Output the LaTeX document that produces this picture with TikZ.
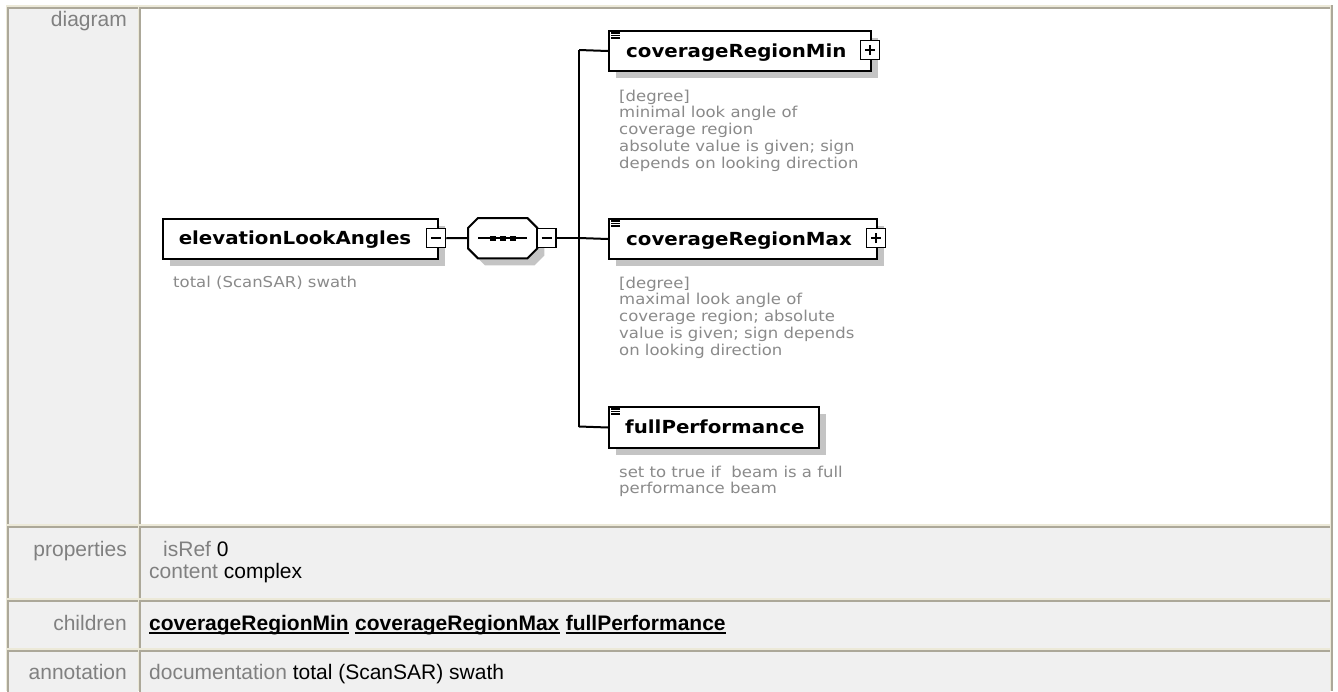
\documentclass[tikz,border=0pt]{standalone}
\usepackage{fontspec}
\setmainfont{Liberation Sans}
\newfontfamily\dgfont{DejaVu Sans}[FakeStretch=1.1]
\usetikzlibrary{calc,shadows}

\definecolor{xpdark}{HTML}{ACA899}
\definecolor{xplight}{HTML}{ECE9D8}
\definecolor{cellgrey}{HTML}{F0F0F0}
\definecolor{labgrey}{HTML}{808080}
\definecolor{docgrey}{HTML}{8A8A8A}
\definecolor{shadowgrey}{HTML}{C4C4C4}

\newcommand{\tabtext}{\fontsize{21}{24}\selectfont}
\newcommand{\eltext}{\dgfont\bfseries\fontsize{18}{20}\selectfont}
\newcommand{\doctext}{\dgfont\fontsize{15}{16.7}\selectfont}

\tikzset{
  lab/.style={anchor=base east, inner sep=0pt, text=labgrey, font=\tabtext},
  val/.style={anchor=base west, inner sep=0pt, font=\tabtext},
  link/.style={anchor=base west, inner sep=0pt, font=\tabtext\bfseries},
  elshadow/.style={drop shadow={shadow xshift=7pt, shadow yshift=-7pt, fill=shadowgrey, opacity=1}},
  elbox/.style={draw, line width=2pt, fill=white, inner sep=0pt, anchor=north west, elshadow},
  eltitle/.style={anchor=base west, inner sep=0pt, font=\eltext},
  doc/.style={anchor=north west, inner sep=0pt, align=left, text=docgrey, font=\doctext},
  pmbox/.style={draw, line width=1.5pt, fill=white, inner sep=0pt, minimum size=19pt},
  conn/.style={line width=2pt},
}

\begin{document}
\begin{tikzpicture}[x=1pt, y=-1pt]
\useasboundingbox (0,0) rectangle (1338,691);
\fill[white] (0,0) rectangle (1338,691);

% table frame and cells
\fill[xplight] (6,5) rectangle (1333,691);
\draw[xpdark, line width=2pt] (1332,5) -- (1332,691);
\foreach \ya/\yb/\cfill in {8/524/white, 527/598/cellgrey, 601/648/cellgrey, 651/700/cellgrey}{
  \fill[cellgrey] (8,\ya) rectangle (138,\yb);
  \draw[xpdark, line width=2pt] (8,\yb) -- (8,\ya) -- (138,\ya);
  \fill[\cfill] (140,\ya) rectangle (1330,\yb);
  \draw[xpdark, line width=2pt] (140,\yb) -- (140,\ya) -- (1330,\ya);
}

% row labels
\node[lab] (ldiagram) at (127,26) {diagram};
\node[lab] (lprops) at (127,556) {properties};
\node[lab] (lchildren) at (127,630) {children};
\node[lab] (lannot) at (127,679) {annotation};

% properties
\node[val] (isref) at (163,556) {\textcolor{labgrey}{isRef} 0};
\node[val] (content) at (149,578) {\textcolor{labgrey}{content} complex};

% children links
\node[link] (c1) at (149,630) {coverageRegionMin};
\node[link, anchor=base west] (c2) at ($(c1.base east)+(6,0)$) {coverageRegionMax};
\node[link, anchor=base west] (c3) at ($(c2.base east)+(6,0)$) {fullPerformance};
\foreach \c in {c1,c2,c3}{
  \draw[line width=1.5pt] ($(\c.base west)+(0,3)$) -- ($(\c.base east)+(0,3)$);
}

% annotation
\node[val] (docu) at (149,679) {\textcolor{labgrey}{documentation} total (ScanSAR) swath};

% ---- schema diagram ----
% root element
\node[elbox, minimum width=275pt, minimum height=40pt] (elev) at (162,218) {};
\node[eltitle, anchor=base] (elevt) at (295,244) {elevationLookAngles};
\node[pmbox] (elevpm) at (436,238) {};
\draw[line width=1.5pt] ([xshift=-5pt]elevpm.center) -- ([xshift=5pt]elevpm.center);
\node[doc] (elevd) at (173,275.6) {total (ScanSAR) swath};

% sequence compositor
\node[inner sep=0pt, minimum width=69pt, minimum height=40pt, anchor=north west] (seq) at (468,218) {};
\draw[line width=2pt, fill=white, elshadow]
  ($(seq.north west)+(10,0)$) -- ($(seq.north east)+(-10,0)$) -- ($(seq.north east)+(0,10)$)
  -- ($(seq.south east)+(0,-10)$) -- ($(seq.south east)+(-10,0)$) -- ($(seq.south west)+(10,0)$)
  -- ($(seq.south west)+(0,-10)$) -- ($(seq.north west)+(0,10)$) -- cycle;
\draw[line width=1.5pt] ($(seq.west)+(10,0)$) -- ($(seq.east)+(-10,0)$);
\foreach \dx in {-10,0,10}{
  \fill ($(seq.center)+(\dx-3,-2.5)$) rectangle ($(seq.center)+(\dx+3,2.5)$);
}
\node[pmbox] (seqpm) at (546.5,238) {};
\draw[line width=1.5pt] ([xshift=-5pt]seqpm.center) -- ([xshift=5pt]seqpm.center);

% child elements
\node[elbox, minimum width=262pt, minimum height=40pt] (cmin) at (608,30) {};
\node[eltitle] (cmint) at (626,57) {coverageRegionMin};
\node[pmbox] (cminpm) at (870,50) {};

\node[elbox, minimum width=268pt, minimum height=40pt] (cmax) at (608,218) {};
\node[eltitle] (cmaxt) at (626,245) {coverageRegionMax};
\node[pmbox] (cmaxpm) at (876,238) {};

\node[elbox, minimum width=210pt, minimum height=41pt] (fullp) at (608,406) {};
\node[eltitle] (fullpt) at (625,433) {fullPerformance};

\foreach \p in {cminpm,cmaxpm}{
  \draw[line width=1.5pt] ([xshift=-5pt]\p.center) -- ([xshift=5pt]\p.center);
  \draw[line width=1.5pt] ([yshift=-5pt]\p.center) -- ([yshift=5pt]\p.center);
}
% element icons
\foreach \b in {cmin,cmax,fullp}{
  \foreach \dy in {3,5.5,8}{
    \draw[line width=1.2pt] ($(\b.north west)+(3,\dy)$) -- ($(\b.north west)+(12,\dy)$);
  }
}

% documentation texts
\node[doc] (cmind) at (619,89.6) {[degree]\\minimal look angle of\\coverage region\\absolute value is given; sign\\depends on looking direction};
\node[doc] (cmaxd) at (619,276.6) {[degree]\\maximal look angle of\\coverage region; absolute\\value is given; sign depends\\on looking direction};
\node[doc] (fullpd) at (619,465.6) {set to true if~ beam is a full\\performance beam};

% connectors
\coordinate (busT) at (579,50);
\coordinate (busM) at (579,238);
\coordinate (busB) at (579,426.5);
\draw[conn] (elevpm.east) -- (seq.west);
\draw[conn] (seqpm.east) -- (busM);
\draw[conn] (busT) -- (busB);
\draw[conn] (busT) -- (cmin.west);
\draw[conn] (busM) -- (cmax.west);
\draw[conn] (busB) -- (fullp.west);
\end{tikzpicture}
\end{document}
